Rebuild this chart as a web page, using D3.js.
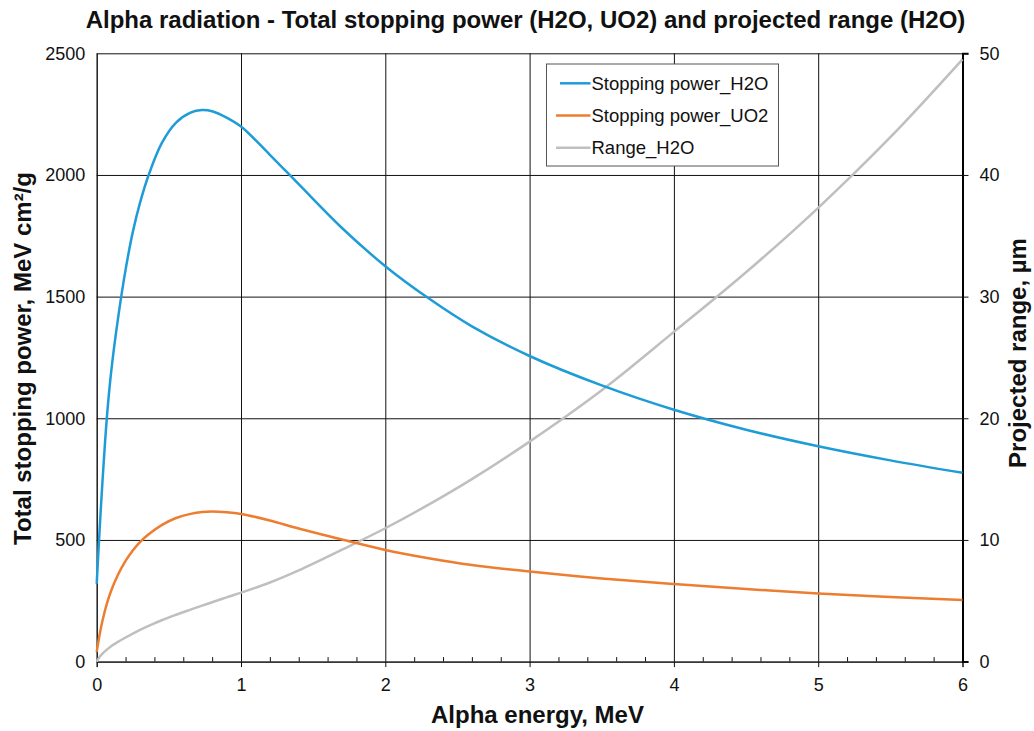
<!DOCTYPE html>
<html>
<head>
<meta charset="utf-8">
<script src="https://cdn.jsdelivr.net/npm/d3@7"></script>
<style>
  body { margin: 0; background: #fff; }
  svg { font-family: "Liberation Sans", Arial, sans-serif; }
</style>
</head>
<body>
<div id="chart"></div>
<script>
// alpha energy, MeV
const energy = [0, 0.02, 0.04, 0.07, 0.1, 0.15, 0.2, 0.25, 0.3, 0.36, 0.45, 0.55, 0.65, 0.73, 0.8, 0.9,
  1.0, 1.2, 1.4, 1.7, 2.0, 2.3, 2.6, 3.0, 3.5, 4.0, 4.5, 5.0, 5.5, 6.0];
// total stopping power, MeV cm2/g
const stoppingH2O = [320, 540, 740, 1000, 1190, 1420, 1610, 1765, 1885, 2000, 2130, 2215, 2256, 2267, 2262, 2236,
  2199, 2083, 1962, 1782, 1625, 1493, 1378, 1256, 1135, 1035, 953, 885, 827, 776];
const stoppingUO2 = [40, 110, 168, 237, 291, 360, 414, 457, 491, 523, 561, 590, 607, 615, 617, 614,
  607, 580, 547, 502, 459, 425, 397, 370, 342, 319, 298, 280, 266, 253];
// projected range in water, um
const rangeH2O = [0, 0.38, 0.65, 0.98, 1.27, 1.64, 1.98, 2.3, 2.6, 2.93, 3.4, 3.85, 4.27, 4.6, 4.88, 5.28,
  5.67, 6.5, 7.5, 9.2, 10.96, 12.9, 15.0, 18.08, 22.3, 27.1, 32.0, 37.3, 43.1, 49.5];

const xTicks = [0, 1, 2, 3, 4, 5, 6];
const yLeftTicks = [0, 500, 1000, 1500, 2000, 2500];
const yRightTicks = [0, 10, 20, 30, 40, 50];

const seriesNames = ['Stopping power_H2O', 'Stopping power_UO2', 'Range_H2O'];
const seriesColors = ['#1E9CD8', '#ED7D31', '#BFBFBF'];

const W = 1034, H = 731;
const margin = { top: 53.3, right: 71.5, bottom: 69.4, left: 96.7 };
const width = W - margin.left - margin.right;
const height = H - margin.top - margin.bottom;

const svg = d3.select('#chart').append('svg')
  .attr('width', W)
  .attr('height', H);

const g = svg.append('g')
  .attr('transform', `translate(${margin.left},${margin.top})`);

const x = d3.scaleLinear().domain([0, 6]).range([0, width]);
const y = d3.scaleLinear().domain([0, 2500]).range([height, 0]);
const y2 = d3.scaleLinear().domain([0, 50]).range([height, 0]);

// horizontal grid
g.append('g')
  .attr('class', 'grid')
  .call(d3.axisLeft(y).tickValues(yLeftTicks).tickSize(-width).tickFormat(''))
  .call(s => s.select('.domain').remove())
  .selectAll('line').attr('stroke', '#111').attr('stroke-width', 1);

// vertical grid
g.append('g')
  .attr('class', 'grid')
  .attr('transform', `translate(0,${height})`)
  .call(d3.axisBottom(x).tickValues(xTicks).tickSize(-height).tickFormat(''))
  .call(s => s.select('.domain').remove())
  .selectAll('line').attr('stroke', '#111').attr('stroke-width', 1);

// minor ticks on x axis (pointing up)
const minorTicks = d3.range(0, 6.0001, 0.2).filter(v => Math.abs(v - Math.round(v)) > 1e-6);
g.append('g')
  .attr('transform', `translate(0,${height})`)
  .call(d3.axisBottom(x).tickValues(minorTicks).tickSize(-4.5).tickFormat(''))
  .call(s => s.select('.domain').remove())
  .selectAll('line').attr('stroke', '#111');

// x axis
const xAxisG = g.append('g')
  .attr('transform', `translate(0,${height})`)
  .call(d3.axisBottom(x).tickValues(xTicks).tickSize(5.5).tickPadding(11).tickFormat(d3.format('d')));
xAxisG.select('.domain').attr('stroke', '#111');
xAxisG.selectAll('line').attr('stroke', '#111');
xAxisG.selectAll('text').style('font-size', '18px').attr('fill', '#111');

// left axis
const yAxisG = g.append('g')
  .call(d3.axisLeft(y).tickValues(yLeftTicks).tickSize(0).tickPadding(11.5).tickFormat(d3.format('d')));
yAxisG.select('.domain').attr('stroke', '#111');
yAxisG.selectAll('text').style('font-size', '18px').attr('fill', '#111');

// right axis
const y2AxisG = g.append('g')
  .attr('transform', `translate(${width},0)`)
  .call(d3.axisRight(y2).tickValues(yRightTicks).tickSize(6).tickPadding(11).tickFormat(d3.format('d')));
y2AxisG.select('.domain').attr('stroke', '#000').attr('stroke-width', 2);
y2AxisG.selectAll('line').attr('stroke', '#111');
y2AxisG.selectAll('text').style('font-size', '18px').attr('fill', '#111');

// curves
const lineLeft = d3.line()
  .x((d, i) => x(energy[i]))
  .y(d => y(d))
  .curve(d3.curveCatmullRom.alpha(0.5));
const lineRight = d3.line()
  .x((d, i) => x(energy[i]))
  .y(d => y2(d))
  .curve(d3.curveCatmullRom.alpha(0.5));

g.append('path')
  .datum(rangeH2O)
  .attr('fill', 'none')
  .attr('stroke', seriesColors[2])
  .attr('stroke-width', 2.5)
  .attr('d', lineRight);

g.append('path')
  .datum(stoppingUO2)
  .attr('fill', 'none')
  .attr('stroke', seriesColors[1])
  .attr('stroke-width', 2.5)
  .attr('d', lineLeft);

g.append('path')
  .datum(stoppingH2O)
  .attr('fill', 'none')
  .attr('stroke', seriesColors[0])
  .attr('stroke-width', 2.5)
  .attr('d', lineLeft);

// legend
const legend = svg.append('g').attr('transform', 'translate(546.5,64)');
legend.append('rect')
  .attr('width', 232)
  .attr('height', 102)
  .attr('fill', '#fff')
  .attr('stroke', '#555')
  .attr('stroke-width', 1);

seriesNames.forEach((name, i) => {
  const ly = 19.3 + i * 32.2;
  legend.append('line')
    .attr('x1', i === 0 ? 13.5 : 9.5).attr('x2', 44)
    .attr('y1', ly).attr('y2', ly)
    .attr('stroke', seriesColors[i])
    .attr('stroke-width', 2.5);
  legend.append('text')
    .attr('x', 45)
    .attr('y', ly + 6.5)
    .style('font-size', '18.5px')
    .attr('fill', '#111')
    .text(name);
});

// titles
svg.append('text')
  .attr('x', 525.5)
  .attr('y', 28)
  .attr('text-anchor', 'middle')
  .style('font-size', '24px')
  .style('font-weight', 'bold')
  .attr('fill', '#111')
  .text('Alpha radiation - Total stopping power (H2O, UO2) and projected range (H2O)');

svg.append('text')
  .attr('x', 537.5)
  .attr('y', 723)
  .attr('text-anchor', 'middle')
  .style('font-size', '24px')
  .style('font-weight', 'bold')
  .attr('fill', '#111')
  .text('Alpha energy, MeV');

svg.append('text')
  .attr('transform', 'translate(31,358.5) rotate(-90)')
  .attr('text-anchor', 'middle')
  .style('font-size', '24px')
  .style('font-weight', 'bold')
  .attr('fill', '#111')
  .text('Total stopping power, MeV cm²/g');

svg.append('text')
  .attr('transform', 'translate(1026,353) rotate(-90)')
  .attr('text-anchor', 'middle')
  .style('font-size', '24px')
  .style('font-weight', 'bold')
  .attr('fill', '#111')
  .text('Projected range, µm');
</script>
</body>
</html>
